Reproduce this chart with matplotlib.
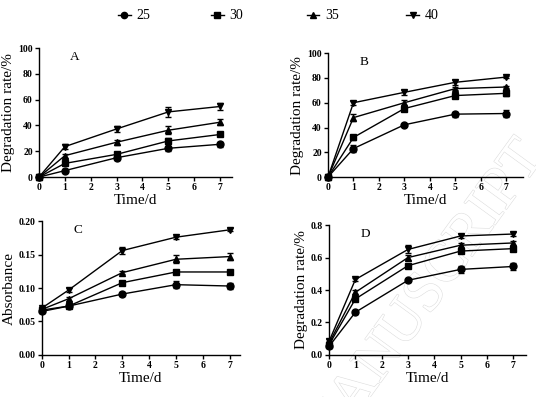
import numpy as np
import matplotlib.pyplot as plt
import matplotlib.patheffects as pe
from matplotlib.lines import Line2D

plt.rcParams['font.family'] = ['Liberation Serif', 'DejaVu Serif']

days = [0, 1, 3, 5, 7]
temps = ['25', '30', '35', '40']
markers = ['o', 's', '^', 'v']

# panel A - degradation rate (%)
a_vals = [[0, 5.0, 15.0, 22.3, 25.4],
          [0, 10.6, 17.6, 28.0, 33.0],
          [0, 16.6, 27.0, 36.3, 42.5],
          [0, 23.6, 37.3, 50.5, 54.7]]
a_err = [[0, 1.0, 1.5, 2.0, 2.0],
         [0, 1.0, 1.5, 2.0, 1.5],
         [0, 1.5, 2.0, 3.0, 2.5],
         [0, 2.0, 2.0, 4.0, 3.0]]

# panel B - degradation rate (%)
b_vals = [[0, 23.0, 42.2, 50.8, 51.3],
          [0, 32.0, 55.3, 65.8, 67.6],
          [0, 48.0, 60.0, 71.4, 72.7],
          [0, 60.0, 68.4, 76.5, 80.7]]
b_err = [[0, 3.0, 1.0, 2.0, 3.0],
         [0, 2.0, 2.0, 1.5, 2.0],
         [0, 3.0, 2.0, 1.5, 1.0],
         [0, 1.5, 2.0, 2.0, 1.0]]

# panel C - absorbance
c_vals = [[0.065, 0.073, 0.091, 0.105, 0.103],
          [0.067, 0.073, 0.108, 0.124, 0.124],
          [0.068, 0.084, 0.123, 0.143, 0.147],
          [0.070, 0.097, 0.156, 0.176, 0.187]]
c_err = [[0.002, 0.002, 0.003, 0.005, 0.004],
         [0.002, 0.002, 0.002, 0.002, 0.002],
         [0.002, 0.003, 0.002, 0.006, 0.005],
         [0.002, 0.003, 0.005, 0.002, 0.002]]

# panel D - degradation rate
d_vals = [[0.053, 0.263, 0.460, 0.527, 0.545],
          [0.063, 0.345, 0.550, 0.640, 0.655],
          [0.073, 0.386, 0.600, 0.676, 0.690],
          [0.084, 0.465, 0.650, 0.733, 0.745]]
d_err = [[0.010, 0.010, 0.008, 0.020, 0.020],
         [0.010, 0.012, 0.010, 0.012, 0.012],
         [0.010, 0.012, 0.015, 0.015, 0.015],
         [0.012, 0.012, 0.025, 0.010, 0.010]]

fig = plt.figure(figsize=(5.36, 3.97), dpi=100)

# faint outlined watermark, partly off the page, behind everything
fig.text(0.79, 0.245, 'MANUSCRIPT', fontsize=42, rotation=54, ha='center',
         va='center', color='white', zorder=-1,
         path_effects=[pe.withStroke(linewidth=0.8, foreground='#dddddd')])

panels = [
    ('A', a_vals, a_err, [0.0728, 0.554, 0.360, 0.325], 7.46, (0, 100), [0, 20, 40, 60, 80, 100], '%d', 'Degradation rate/%'),
    ('B', b_vals, b_err, [0.612, 0.554, 0.364, 0.312], 7.67, (0, 100), [0, 20, 40, 60, 80, 100], '%d', 'Degradation rate/%'),
    ('C', c_vals, c_err, [0.078, 0.106, 0.369, 0.337], 7.37, (0, 0.2), [0, 0.05, 0.10, 0.15, 0.20], '%.2f', 'Absorbance'),
    ('D', d_vals, d_err, [0.614, 0.106, 0.368, 0.327], 7.50, (0, 0.8), [0, 0.2, 0.4, 0.6, 0.8], '%.1f', 'Degradation rate/%'),
]

for letter, vals, errs, pos, xmax, ylim, yticks, fmt, ylab in panels:
    ax = fig.add_axes(pos)
    ax.set_facecolor('none')
    for v, e, m in zip(vals, errs, markers):
        ax.errorbar(days, v, yerr=e, color='black', marker=m, markersize=5,
                    linewidth=1.0, elinewidth=1.0, capsize=2.5, capthick=1.0,
                    clip_on=False, zorder=3)
    ax.set_xlim(0, xmax)
    ax.set_ylim(*ylim)
    ax.set_xticks(range(8))
    ax.set_yticks(yticks)
    ax.set_yticklabels([fmt % t for t in yticks])
    ax.spines['top'].set_visible(False)
    ax.spines['right'].set_visible(False)
    ax.spines['left'].set_linewidth(1.0)
    ax.spines['bottom'].set_linewidth(1.0)
    ax.tick_params(direction='out', length=3, width=1.0, labelsize=7, pad=1.5)
    for lab in ax.get_xticklabels() + ax.get_yticklabels():
        lab.set_fontweight('bold')
    ax.set_xlabel('Time/d', fontsize=11, labelpad=1)
    ax.set_ylabel(ylab, fontsize=11, labelpad=2)
    ax.text(0.16, 0.93, letter, transform=ax.transAxes, fontsize=9.5,
            ha='left', va='center')

# legend across the top
leg_x = [0.232, 0.405, 0.584, 0.770]
for x, t, m in zip(leg_x, temps, markers):
    fig.add_artist(Line2D([x - 0.012, x, x + 0.012], [0.962] * 3, color='black',
                          linewidth=1.0, marker=m, markersize=4.5, markevery=[1],
                          transform=fig.transFigure))
    fig.text(x + 0.022, 0.962, t, fontsize=10, ha='left', va='center')

fig.savefig('out.png', dpi=100)
